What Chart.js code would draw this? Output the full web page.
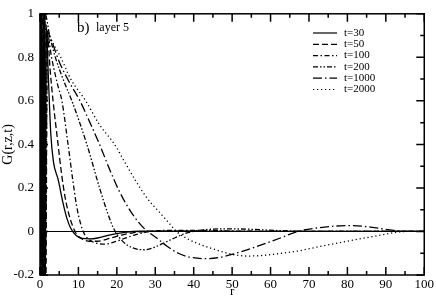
<!DOCTYPE html>
<html>
<head>
<meta charset="UTF-8">
<script src="https://cdn.jsdelivr.net/npm/chart.js"></script>
<style>
  body { margin: 0; background: #fff; }
</style>
<title>G(r,z,t)</title>
</head>
<body>
<canvas id="grafico" width="436" height="299"></canvas>
<script>
    // legend labels
    var rotulos = ['t=30', 't=50', 't=100', 't=200', 't=1000', 't=2000'];

    // t=30
    var r30 = [0, 0.2, 0.4, 0.6, 0.8, 1.0, 1.2, 1.4, 1.6, 2.2, 2.8, 3.5, 4.7, 6, 7, 8, 9.5, 11, 13, 15, 18, 22, 26, 35, 50, 100];
    var g30 = [1, -0.3, 1.05, -0.3, 1.05, -0.3, 1.05, -0.3, 0.95, 0.7, 0.45, 0.32, 0.24, 0.13, 0.06, 0.015, -0.02, -0.032, -0.034, -0.03, -0.017, -0.004, 0.001, 0.001, 0, 0];
    // t=50
    var r50 = [0, 0.3, 0.5, 0.7, 0.9, 1.1, 1.3, 1.5, 1.9, 2.6, 3.4, 4.7, 5.5, 6.5, 7.5, 8.5, 9.5, 11, 13, 15, 18, 22, 26, 32, 45, 100];
    var g50 = [1, -0.3, 1.05, -0.3, 1.05, -0.3, 1.05, -0.3, 0.92, 0.75, 0.6, 0.4, 0.28, 0.16, 0.08, 0.025, -0.012, -0.035, -0.045, -0.045, -0.032, -0.013, -0.002, 0.002, 0.001, 0];
    // t=100
    var r100 = [0, 0.5, 1.0, 1.3, 2, 3, 4.5, 5.7, 7.3, 8.5, 9.5, 10.5, 11.5, 13, 15, 17, 19, 22, 25, 28, 33, 42, 55, 100];
    var g100 = [1, -0.25, 1.0, -0.25, 0.9, 0.8, 0.68, 0.6, 0.4, 0.24, 0.12, 0.04, -0.01, -0.04, -0.055, -0.058, -0.05, -0.032, -0.014, -0.002, 0.005, 0.005, 0.001, 0];
    // t=200
    var r200 = [0, 0.7, 1.3, 2.5, 4, 6, 8.3, 12.2, 15.5, 17.5, 19, 20.5, 22.5, 25, 27, 29, 32, 35, 38, 42, 48, 55, 62, 72, 100];
    var g200 = [1, -0.25, 1.0, 0.9, 0.8, 0.7, 0.6, 0.4, 0.2, 0.09, 0.02, -0.025, -0.06, -0.08, -0.084, -0.078, -0.055, -0.03, -0.008, 0.006, 0.012, 0.01, 0.004, 0, 0];
    // t=1000
    var r1000 = [0, 1, 2.5, 5, 7.5, 10.4, 13, 15.5, 18, 20.5, 23.3, 26, 28, 30, 33, 36, 39, 43, 47, 51, 55, 59, 63, 67, 72, 77, 81, 86, 92, 97, 100];
    var g1000 = [1, 0.95, 0.9, 0.78, 0.69, 0.6, 0.5, 0.4, 0.29, 0.19, 0.1, 0.035, 0, -0.025, -0.067, -0.1, -0.118, -0.125, -0.118, -0.1, -0.078, -0.053, -0.027, 0, 0.016, 0.025, 0.027, 0.02, 0.005, 0, 0];
    // t=2000
    var r2000 = [0, 1, 2.6, 5.4, 8, 11.9, 15.5, 19.4, 22, 25, 28, 31, 33.5, 35.5, 38, 41, 45, 50, 54, 58, 63, 67.4, 72, 77, 82, 87, 92, 95, 100];
    var g2000 = [1, 0.95, 0.89, 0.8, 0.7, 0.6, 0.49, 0.4, 0.32, 0.23, 0.15, 0.09, 0.04, 0, -0.03, -0.055, -0.08, -0.105, -0.113, -0.11, -0.1, -0.089, -0.072, -0.055, -0.038, -0.022, -0.006, 0, 0];

    var tracos = [[], [6, 3], [5, 2.5, 1.5, 2.5], [5, 2, 1.5, 2, 1.5, 2], [9, 3, 1.5, 3], [1.2, 2.8]];
    var series = [[r30, g30], [r50, g50], [r100, g100], [r200, g200], [r1000, g1000], [r2000, g2000]];

    function pontos(r, g) {
        var lista = [];
        for (var i = 0; i < r.length; i++) {
            lista.push({ x: r[i], y: g[i] });
        }
        return lista;
    }

    var datasets = [];
    for (var i = 0; i < series.length; i++) {
        datasets.push({
            label: rotulos[i],
            data: pontos(series[i][0], series[i][1]),
            borderColor: 'black',
            borderWidth: 1.3,
            borderDash: tracos[i],
            pointRadius: 0,
            fill: false,
            cubicInterpolationMode: 'monotone'
        });
    }

    var fonte = 'Liberation Serif';

    // frame, inner ticks, zero line, legend and label
    var moldura = {
        id: 'moldura',
        afterDraw: function (chart) {
            var ctx = chart.ctx, a = chart.chartArea;
            var xs = chart.scales.x, ys = chart.scales.y;
            ctx.save();
            ctx.strokeStyle = 'black';
            ctx.setLineDash([]);

            var y0 = Math.round(ys.getPixelForValue(0)) + 0.5;
            ctx.lineWidth = 1.2;
            ctx.beginPath();
            ctx.moveTo(a.left, y0);
            ctx.lineTo(a.right, y0);
            ctx.stroke();

            ctx.lineWidth = 1.5;
            ctx.beginPath();
            for (var i = 0; i <= 20; i++) {
                var px = xs.getPixelForValue(i * 5);
                var len = i % 2 === 0 ? 8 : 4;
                ctx.moveTo(px, a.bottom); ctx.lineTo(px, a.bottom - len);
                ctx.moveTo(px, a.top); ctx.lineTo(px, a.top + len);
            }
            for (var j = -2; j <= 10; j++) {
                var py = ys.getPixelForValue(j / 10);
                var l2 = j % 2 === 0 ? 8 : 4;
                ctx.moveTo(a.left, py); ctx.lineTo(a.left + l2, py);
                ctx.moveTo(a.right, py); ctx.lineTo(a.right - l2, py);
            }
            ctx.stroke();

            ctx.lineWidth = 1.5;
            ctx.strokeRect(a.left, a.top, a.right - a.left, a.bottom - a.top);

            // legend
            ctx.fillStyle = 'black';
            ctx.font = '11px "' + fonte + '"';
            ctx.textBaseline = 'middle';
            ctx.textAlign = 'left';
            for (var k = 0; k < rotulos.length; k++) {
                var ly = 33 + k * 11.3;
                ctx.lineWidth = 1.2;
                ctx.setLineDash(tracos[k]);
                ctx.beginPath();
                ctx.moveTo(313, ly);
                ctx.lineTo(337, ly);
                ctx.stroke();
                ctx.fillText(rotulos[k], 344, ly);
            }
            ctx.setLineDash([]);

            ctx.font = '15px "' + fonte + '"';
            ctx.fillText('b)', 77, 28);
            ctx.font = '12px "' + fonte + '"';
            ctx.fillText('layer 5', 96, 28);
            ctx.restore();
        }
    };

    new Chart(document.getElementById('grafico'), {
        type: 'line',
        data: { datasets: datasets },
        options: {
            responsive: false,
            animation: false,
            layout: { padding: { top: 5, right: 10, left: 0, bottom: 0 } },
            plugins: { legend: { display: false }, tooltip: { enabled: false } },
            scales: {
                x: {
                    type: 'linear',
                    min: 0,
                    max: 100,
                    afterFit: function (s) { s.height = 24; },
                    grid: { display: false, drawTicks: false },
                    border: { display: false },
                    ticks: { stepSize: 10, color: 'black', padding: 2, font: { family: fonte, size: 13 } },
                    title: { display: true, text: 'r', color: 'black', padding: 0, font: { family: fonte, size: 13 } }
                },
                y: {
                    min: -0.2,
                    max: 1,
                    afterFit: function (s) { s.width = 40; },
                    grid: { display: false, drawTicks: false },
                    border: { display: false },
                    ticks: {
                        stepSize: 0.2, color: 'black', padding: 6, font: { family: fonte, size: 13 },
                        callback: function (v) { return Math.round(v * 10) / 10; }
                    },
                    title: { display: true, text: 'G(r,z,t)', color: 'black', padding: 0, font: { family: fonte, size: 14 } }
                }
            }
        },
        plugins: [moldura]
    });
</script>
</body>
</html>
